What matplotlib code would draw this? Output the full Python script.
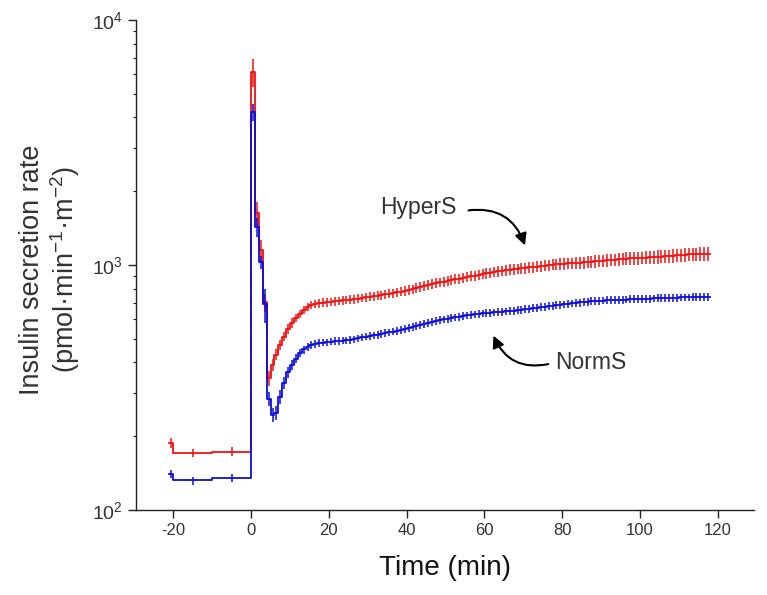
import matplotlib
matplotlib.use("Agg")
import matplotlib.pyplot as plt
import numpy as np

plt.rcParams['font.family'] = ['Liberation Sans', 'DejaVu Sans']
plt.rcParams['mathtext.fontset'] = 'custom'
plt.rcParams['mathtext.rm'] = 'Liberation Sans'
plt.rcParams['mathtext.it'] = 'Liberation Sans:italic'
plt.rcParams['axes.unicode_minus'] = False

# ---- data (step intervals; start times in min, last interval ends at 118) ----
t_start = [-21, -20, -10] + list(range(0, 118))
t_end_last = 118

hyper_vals = [188, 171, 173,
    6150, 1625, 1146, 704, 345, 390, 430, 470, 510, 548,
    580, 608, 632, 655, 673, 686, 693, 698, 702, 705,
    708, 711, 714, 717, 720, 722, 726, 729, 734, 738,
    742, 746, 750, 754, 758, 763, 768, 773, 778, 784,
    790, 797, 805, 813, 821, 829, 836, 843, 850, 856,
    862, 868, 874, 880, 887, 894, 900, 906, 912, 918,
    924, 930, 936, 942, 947, 952, 957, 961, 965, 969,
    973, 977, 981, 985, 989, 993, 998, 1003, 1008, 1011,
    1013, 1015, 1017, 1019, 1021, 1024, 1027, 1031, 1035, 1039,
    1043, 1046, 1049, 1052, 1056, 1059, 1062, 1064, 1066, 1068,
    1070, 1072, 1074, 1076, 1079, 1082, 1085, 1088, 1091, 1094,
    1097, 1100, 1104, 1106, 1107, 1108, 1109, 1110]

hyper_err = [9, 7, 7,
    800, 180, 120, 60, 25, 22, 22, 22, 22, 24,
    25, 25, 26, 26, 27, 27, 28, 28, 28, 28,
    28, 29, 29, 29, 29, 30, 30, 30, 30, 31,
    31, 31, 32, 32, 32, 33, 33, 34, 34, 34,
    35, 35, 36, 36, 37, 37, 38, 38, 39, 39,
    40, 40, 41, 41, 42, 42, 43, 43, 44, 44,
    45, 45, 46, 46, 47, 47, 48, 48, 49, 49,
    50, 50, 51, 51, 52, 52, 53, 53, 54, 54,
    55, 55, 56, 56, 57, 57, 58, 58, 59, 59,
    60, 60, 61, 61, 62, 62, 63, 63, 64, 64,
    65, 65, 66, 66, 67, 67, 68, 68, 69, 69,
    70, 70, 70, 71, 71, 72, 72, 72]

norm_vals = [140, 132, 135,
    4207, 1428, 1027, 690, 284, 245, 250, 290, 330, 365,
    390, 415, 437, 452, 464, 472, 477, 480, 482, 484,
    487, 489, 490, 491, 493, 495, 498, 502, 506, 510,
    513, 516, 519, 523, 527, 531, 535, 539, 544, 549,
    554, 559, 564, 569, 574, 579, 584, 592, 598, 601,
    603, 607, 611, 615, 620, 623, 626, 629, 632, 635,
    637, 639, 641, 642, 644, 646, 648, 651, 654, 657,
    660, 663, 666, 669, 672, 675, 678, 682, 685, 688,
    691, 694, 697, 700, 703, 706, 709, 711, 713, 715,
    716, 718, 719, 720, 721, 722, 723, 724, 725, 726,
    727, 728, 729, 730, 731, 732, 733, 734, 735, 736,
    737, 737, 738, 739, 740, 740, 741, 742]

norm_err = [5, 5, 5,
    320, 130, 60, 110, 18, 16, 16, 18, 18, 18,
    18, 17, 17, 17, 17, 17, 17, 17, 17, 17,
    17, 17, 17, 17, 17, 17, 17, 18, 18, 18,
    18, 18, 18, 18, 19, 19, 19, 19, 19, 19,
    20, 20, 20, 20, 20, 21, 21, 21, 21, 21,
    22, 22, 22, 22, 22, 22, 22, 22, 23, 23,
    23, 23, 23, 23, 23, 23, 24, 24, 24, 24,
    24, 24, 24, 24, 25, 25, 25, 25, 25, 25,
    25, 25, 25, 26, 26, 26, 26, 26, 26, 26,
    26, 26, 26, 26, 26, 26, 26, 27, 27, 27,
    27, 27, 27, 27, 27, 27, 27, 27, 27, 27,
    27, 27, 27, 27, 27, 27, 27, 27]

x_ticks = [-20, 0, 20, 40, 60, 80, 100, 120]
y_ticks = [100, 1000, 10000]
y_tick_labels = [r'$\mathregular{10^{2}}$', r'$\mathregular{10^{3}}$',
                 r'$\mathregular{10^{4}}$']

# ---- figure ----
fig = plt.figure(figsize=(7.67, 5.95), dpi=100)
ax = fig.add_axes([136/767, 1 - 510/595, 618/767, 490/595])

edges = np.array(t_start + [t_end_last], dtype=float)
mids = (edges[:-1] + edges[1:]) / 2.0

series = [
    (hyper_vals, hyper_err, '#f01010'),
    (norm_vals, norm_err, '#0c0cdc'),
]
for z, (vals, err, col) in enumerate(series):
    v = np.array(vals, dtype=float)
    ax.plot(edges, np.append(v, v[-1]), drawstyle='steps-post',
            color=col, lw=1.3, zorder=2 + 2 * z)
    ax.errorbar(mids, v, yerr=np.array(err, dtype=float), fmt='none',
                ecolor=col, elinewidth=1.1, capsize=0, zorder=2 + 2 * z)

ax.set_yscale('log')
ax.set_ylim(100, 10000)
ax.set_xlim(-29.6, 129.3)
ax.set_xticks(x_ticks)
ax.set_xticklabels([str(t) for t in x_ticks])
ax.set_yticks(y_ticks)
ax.set_yticklabels(y_tick_labels)

for s in ['top', 'right']:
    ax.spines[s].set_visible(False)
for s in ['left', 'bottom']:
    ax.spines[s].set_color('#222222')
    ax.spines[s].set_linewidth(1.0)

ax.tick_params(axis='both', which='major', direction='out', length=6,
               width=1.0, colors='#222222', labelsize=12, labelcolor='#333333')
ax.tick_params(axis='y', which='major', labelsize=14)
ax.tick_params(axis='y', which='minor', direction='out', length=2.5,
               width=0.8, colors='#222222')
ax.tick_params(axis='x', which='minor', bottom=False)

ax.set_xlabel('Time (min)', fontsize=20, color='#111111', labelpad=12)
ax.set_ylabel('Insulin secretion rate\n(pmol·min$^{-1}$·m$^{-2}$)',
              fontsize=19.5, color='#333333', linespacing=1.1)
ax.yaxis.set_label_coords(-0.088, 0.49)

# annotations
arrow_kw = dict(arrowstyle='-|>,head_length=0.7,head_width=0.35',
                connectionstyle='arc3,rad=-0.4', color='black',
                lw=1.5, shrinkA=0, shrinkB=0)
ax.text(42.9, 1724, 'HyperS', fontsize=16.5, color='#333333',
        ha='center', va='center')
ax.annotate('', xy=(70.4, 1202), xytext=(55.9, 1671), arrowprops=arrow_kw)
ax.text(87.4, 400, 'NormS', fontsize=16.5, color='#333333',
        ha='center', va='center')
ax.annotate('', xy=(62.3, 515), xytext=(76.4, 394), arrowprops=arrow_kw)

fig.savefig('out.png', dpi=100)
